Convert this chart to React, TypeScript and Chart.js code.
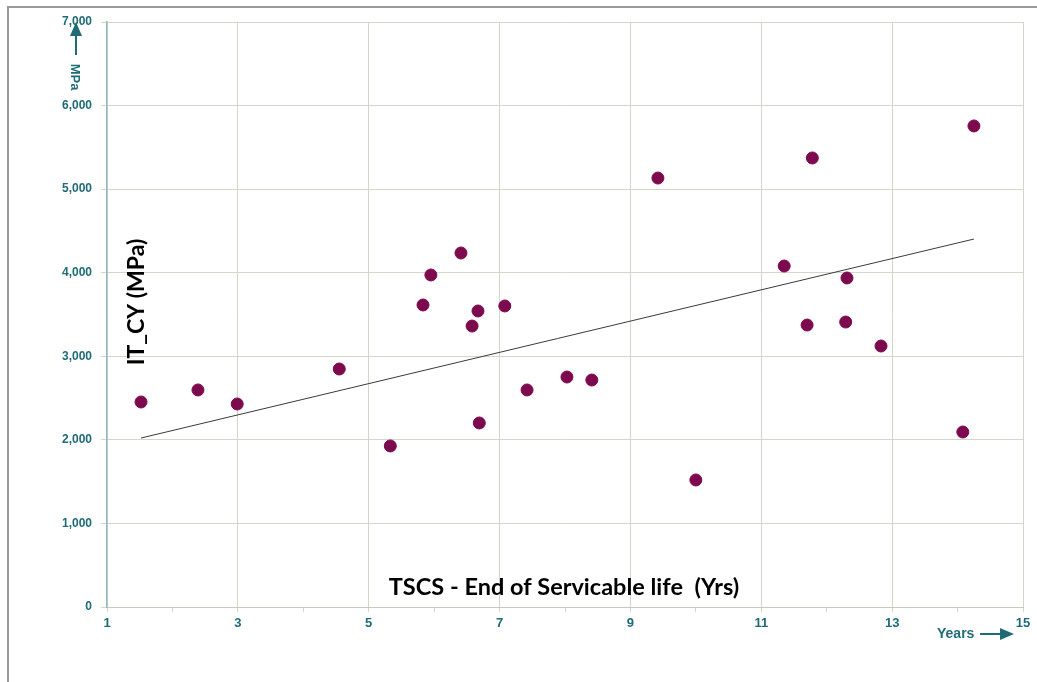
import React, { useEffect, useRef } from "react";
import { Chart, registerables } from "chart.js";

Chart.register(...registerables);

const lifeYears = [1.52, 2.39, 2.99, 4.55, 5.33, 5.83, 5.95, 6.41, 6.58, 6.67, 6.69, 7.08, 7.42, 8.03, 8.41, 9.42, 10.0, 11.35, 11.7, 11.78, 12.31, 12.29, 12.83, 14.08, 14.25];
const itCyMPa = [2453, 2597, 2429, 2848, 1927, 3614, 3973, 4236, 3362, 3542, 2202, 3602, 2597, 2752, 2716, 5133, 1520, 4080, 3374, 5373, 3937, 3410, 3123, 2094, 5756];
const trendX = [1.52, 14.25];
const trendY = [2022, 4403];

const xTitle = "TSCS - End of Servicable life  (Yrs)";
const yTitle = "IT_CY (MPa)";
const yUnit = "MPa";
const xUnit = "Years";

const TEAL = "#1f6b76";
const GRID = "#d6d6c8";

const decorPlugin = {
  id: "decor",
  afterDraw(chart: any) {
    const ctx = chart.ctx as CanvasRenderingContext2D;
    ctx.save();
    // outer frame
    ctx.strokeStyle = "#9a9a9a";
    ctx.lineWidth = 2;
    ctx.beginPath();
    ctx.moveTo(8, 690);
    ctx.lineTo(8, 7);
    ctx.lineTo(1040, 7);
    ctx.stroke();

    // x title
    ctx.fillStyle = "#000";
    ctx.font = "bold 23.5px Lato";
    ctx.textAlign = "center";
    ctx.textBaseline = "middle";
    ctx.fillText(xTitle, 564, 587);

    // y title
    ctx.save();
    ctx.translate(137, 302);
    ctx.rotate(-Math.PI / 2);
    ctx.font = "bold 23px Lato";
    ctx.fillText(yTitle, 0, 0);
    ctx.restore();

    // MPa unit + arrow
    ctx.fillStyle = TEAL;
    ctx.strokeStyle = TEAL;
    ctx.save();
    ctx.translate(75, 77);
    ctx.rotate(Math.PI / 2);
    ctx.font = "bold 13px 'Liberation Sans'";
    ctx.fillText(yUnit, 0, 0);
    ctx.restore();
    ctx.lineWidth = 2;
    ctx.beginPath();
    ctx.moveTo(76, 55);
    ctx.lineTo(76, 33);
    ctx.stroke();
    ctx.beginPath();
    ctx.moveTo(76, 22);
    ctx.lineTo(70, 36);
    ctx.lineTo(82, 36);
    ctx.closePath();
    ctx.fill();

    // Years unit + arrow
    ctx.font = "bold 14px 'Liberation Sans'";
    ctx.textAlign = "left";
    ctx.fillText(xUnit, 937, 634);
    ctx.beginPath();
    ctx.moveTo(980, 634);
    ctx.lineTo(1002, 634);
    ctx.stroke();
    ctx.beginPath();
    ctx.moveTo(1014, 634);
    ctx.lineTo(1000, 628);
    ctx.lineTo(1000, 640);
    ctx.closePath();
    ctx.fill();
    ctx.restore();
  },
};

export default function App() {
  const ref = useRef<HTMLCanvasElement>(null);
  useEffect(() => {
    if (!ref.current) return;
    const points = lifeYears.map((x, i) => ({ x, y: itCyMPa[i] }));
    const trend = trendX.map((x, i) => ({ x, y: trendY[i] }));
    const chart = new Chart(ref.current, {
      type: "scatter",
      data: {
        datasets: [
          {
            label: "IT_CY",
            data: points,
            backgroundColor: "#7d0a4e",
            borderColor: "#7d0a4e",
            pointRadius: 6,
            pointHoverRadius: 6,
          },
          {
            label: "Trend",
            type: "line" as any,
            data: trend,
            showLine: true,
            borderColor: "#3a3a3a",
            borderWidth: 1,
            pointRadius: 0,
            fill: false,
          } as any,
        ],
      },
      options: {
        animation: false,
        responsive: false,
        layout: { padding: { top: 22, right: 14, left: 0, bottom: 0 } },
        plugins: { legend: { display: false }, tooltip: { enabled: false } },
        scales: {
          x: {
            type: "linear",
            min: 1,
            max: 15,
            afterFit: (s: any) => { s.height = 75; },
            ticks: {
              stepSize: 1,
              autoSkip: false,
              maxRotation: 0,
              color: TEAL,
              font: { family: "'Liberation Sans'", size: 13, weight: "bold" },
              padding: 4,
              callback: (v: any) => (Number(v) % 2 === 1 ? String(v) : ""),
            },
            grid: {
              color: (c: any) => (c.tick && Number(c.tick.value) % 2 === 1 ? GRID : "rgba(0,0,0,0)"),
              tickColor: GRID,
              tickLength: 5,
              lineWidth: 1,
            },
            border: { color: "#c8c8bc", width: 1 },
          },
          y: {
            type: "linear",
            min: 0,
            max: 7000,
            afterFit: (s: any) => { s.width = 107; },
            ticks: {
              stepSize: 1000,
              color: TEAL,
              font: { family: "'Liberation Sans'", size: 12, weight: "bold" },
              padding: 9,
              callback: (v: any) => Number(v).toLocaleString("en-US"),
            },
            grid: { color: GRID, tickColor: GRID, tickLength: 6, lineWidth: 1 },
            border: { color: "#8fbcc4", width: 1.5 },
          },
        },
      },
      plugins: [decorPlugin],
    });
    return () => chart.destroy();
  }, []);
  return (
    <div style={{ position: "fixed", left: 0, top: 0, width: 1037, height: 682, background: "#fff" }}>
      <canvas ref={ref} width={1037} height={682} style={{ display: "block" }} />
    </div>
  );
}
